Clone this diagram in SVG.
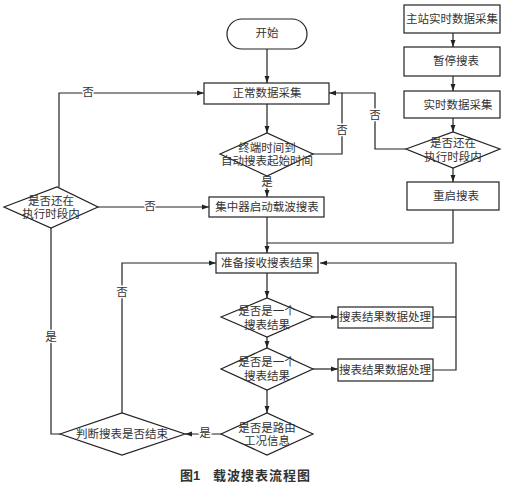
<svg xmlns="http://www.w3.org/2000/svg" width="513" height="485" viewBox="0 0 513 485">
<defs>
<marker id="arr" viewBox="0 0 10 10" refX="10" refY="5" markerWidth="7" markerHeight="7" markerUnits="userSpaceOnUse" orient="auto">
<path d="M0,1.5 L10,5 L0,8.5 z" fill="#222"/>
</marker>
<style>
.n{fill:#fff;stroke:#222;stroke-width:1.2}
.t{font-family:"Liberation Serif","Noto Sans CJK SC",serif;font-size:11.5px;fill:#333;text-anchor:middle;dominant-baseline:central}
.c{fill:none;stroke:#222;stroke-width:1.2}
.a{marker-end:url(#arr)}
.l{font-family:"Liberation Serif","Noto Sans CJK SC",serif;font-size:11.5px;fill:#333;text-anchor:middle;dominant-baseline:central;stroke:#fff;stroke-width:3;paint-order:stroke}
.cap{font-family:"Liberation Sans","Noto Sans CJK SC",sans-serif;font-size:13px;font-weight:bold;fill:#333}
</style>
</defs>
<rect width="513" height="485" fill="#fff"/>
<g id="connectors">
<path class="c a" d="M267,49 V83"/>
<path class="c a" d="M267,104 V133"/>
<path class="c a" d="M267,176 V197"/>
<path class="c a" d="M313,154 H342 V93 H329"/>
<path class="c" d="M406,149 H375 V93 H342"/>
<path class="c a" d="M453,33 V47"/>
<path class="c a" d="M453,76 V91"/>
<path class="c a" d="M453,118 V132"/>
<path class="c a" d="M453,168 V182"/>
<path class="c" d="M453,210 V243 H267"/>
<path class="c a" d="M267,217 V253"/>
<path class="c a" d="M59,187 V93 H204"/>
<path class="c a" d="M98,207 H209"/>
<path class="c a" d="M267,273 V298"/>
<path class="c a" d="M313,317 H338"/>
<path class="c a" d="M267,337 V348"/>
<path class="c a" d="M313,369 H338"/>
<path class="c a" d="M267,390 V413"/>
<path class="c" d="M433,317 H456"/>
<path class="c a" d="M433,370 H456 V263 H320"/>
<path class="c a" d="M221,434 H185"/>
<path class="c a" d="M122,413 V263 H216"/>
<path class="c" d="M60,434 H51 V228"/>
<text class="l" x="267" y="182">是</text>
<text class="l" x="342" y="130">否</text>
<text class="l" x="375" y="115">否</text>
<text class="l" x="88" y="92">否</text>
<text class="l" x="150" y="206">否</text>
<text class="l" x="205" y="433">是</text>
<text class="l" x="122" y="292">否</text>
<text class="l" x="51" y="337">是</text>
</g>
<g id="start"><rect class="n" x="227" y="19" width="80" height="30" rx="15"/><text class="t" x="267" y="33">开始</text></g>
<g id="normal"><rect class="n" x="204" y="83" width="125" height="21"/><text class="t" x="267" y="93">正常数据采集</text></g>
<g id="d-time"><polygon class="n" points="220,154 267,133 313,154 267,176"/><text class="t" x="267" y="148">终端时间到</text><text class="t" x="267" y="161">自动搜表起始时间</text></g>
<g id="conc"><rect class="n" x="209" y="197" width="115" height="20"/><text class="t" x="267" y="207">集中器启动载波搜表</text></g>
<g id="master"><rect class="n" x="404" y="5" width="96" height="28"/><text class="t" x="452" y="19">主站实时数据采集</text></g>
<g id="pause"><rect class="n" x="404" y="47" width="96" height="29"/><text class="t" x="456" y="61">暂停搜表</text></g>
<g id="rt"><rect class="n" x="404" y="91" width="96" height="27"/><text class="t" x="458" y="105">实时数据采集</text></g>
<g id="d-right"><polygon class="n" points="406,149 453,132 500,149 453,168"/><text class="t" x="453" y="143">是否还在</text><text class="t" x="453" y="157">执行时段内</text></g>
<g id="restart"><rect class="n" x="407" y="182" width="92" height="28"/><text class="t" x="456" y="196">重启搜表</text></g>
<g id="d-left"><polygon class="n" points="4,207 57,187 98,207 51,228"/><text class="t" x="51" y="201">是否还在</text><text class="t" x="51" y="214">执行时段内</text></g>
<g id="prepare"><rect class="n" x="216" y="253" width="102" height="20"/><text class="t" x="267" y="263">准备接收搜表结果</text></g>
<g id="d2"><polygon class="n" points="221,317 267,298 313,317 267,337"/><text class="t" x="267" y="311">是否是一个</text><text class="t" x="267" y="325">搜表结果</text></g>
<g id="proc1"><rect class="n" x="338" y="307" width="95" height="21"/><text class="t" x="385" y="317">搜表结果数据处理</text></g>
<g id="d3"><polygon class="n" points="221,369 267,348 313,369 267,390"/><text class="t" x="267" y="362">是否是一个</text><text class="t" x="267" y="376">搜表结果</text></g>
<g id="proc2"><rect class="n" x="338" y="359" width="95" height="22"/><text class="t" x="385" y="370">搜表结果数据处理</text></g>
<g id="d4"><polygon class="n" points="221,434 267,413 313,434 267,455"/><text class="t" x="267" y="428">是否是路由</text><text class="t" x="267" y="441">工况信息</text></g>
<g id="judge"><polygon class="n" points="60,434 122,413 185,434 122,455"/><text class="t" x="122" y="434">判断搜表是否结束</text></g>
<text class="cap" x="180" y="480">图1</text>
<text class="cap" x="213" y="480" letter-spacing="1">载波搜表流程图</text>
</svg>
